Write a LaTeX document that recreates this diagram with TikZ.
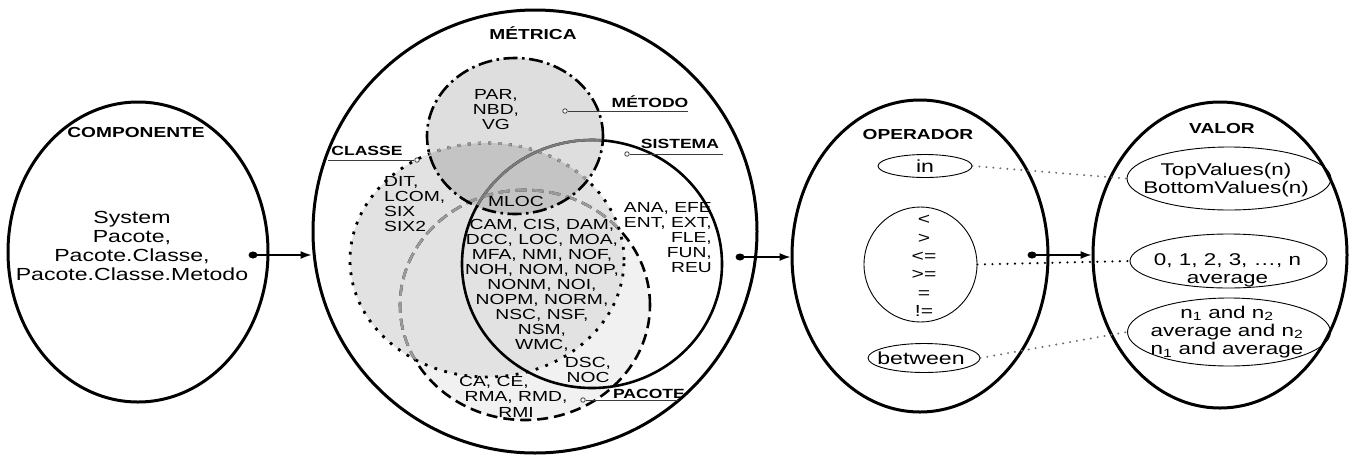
\documentclass[tikz,border=0pt]{standalone}
\usepackage{fontspec}
\setmainfont{Liberation Sans}[FakeStretch=1.32]
\usetikzlibrary{shapes.geometric,arrows.meta}

\definecolor{pacfill}{HTML}{F1F1F1}
\definecolor{clsfill}{HTML}{E2E2E2}
\definecolor{lgray}{HTML}{9A9A9A}
\definecolor{mgray}{HTML}{7A7A7A}
\definecolor{dgray}{HTML}{6E6E6E}
\definecolor{leader}{HTML}{3C3C3C}

\tikzset{
  bigell/.style={draw, ellipse, line width=3pt, inner sep=0pt},
  ttl/.style={font=\fontsize{14.5}{15}\selectfont\bfseries, inner sep=0pt},
  sublabel/.style={font=\fontsize{13.3}{14}\selectfont\bfseries, inner sep=0pt},
  metric/.style={font=\fontsize{14.6}{15}\selectfont, align=center, inner sep=0pt},
  smallell/.style={draw, ellipse, line width=0.9pt, inner sep=0pt},
  optext/.style={font=\fontsize{17.5}{18}\selectfont, inner sep=0pt},
  symtext/.style={font=\fontsize{16}{18.3}\selectfont, align=center, inner sep=0pt},
  valtext/.style={font=\fontsize{17}{18.3}\selectfont, align=center, inner sep=0pt},
  comptext/.style={font=\fontsize{17.5}{19}\selectfont, align=center, inner sep=0pt},
  anchordot/.style={fill, ellipse, inner sep=0pt, minimum width=9pt, minimum height=7pt},
  link/.style={line width=1.5pt, -{Latex[length=11pt,width=8pt]}},
  leaderline/.style={draw=leader, line width=1pt},
  ringdot/.style={circle, draw=leader, fill=white, line width=0.8pt, inner sep=0pt, minimum size=4.5pt},
  dotlinkgray/.style={draw=dgray, line width=2.2pt, line cap=round, dash pattern=on 0pt off 7pt},
  dotlinkblack/.style={draw=black, line width=2.4pt, line cap=round, dash pattern=on 0pt off 7.5pt},
  pacline/.style={line width=2.6pt, dash pattern=on 11pt off 6pt},
  clsline/.style={line width=2.8pt, dash pattern=on 2.8pt off 7.5pt},
  sisline/.style={line width=2.6pt},
  metline/.style={line width=2.6pt, dash pattern=on 14pt off 4.5pt on 2.6pt off 4.5pt},
}

\begin{document}
\begin{tikzpicture}[x=1pt,y=-1pt]
\path[use as bounding box] (0,0) rectangle (1353,456);

% ---------- outer ellipses ----------
\node[bigell, minimum width=260pt, minimum height=300pt] (comp) at (138,252) {};
\node[bigell, minimum width=444pt, minimum height=443pt] (metr) at (535,231.5) {};
\node[bigell, minimum width=256pt, minimum height=312pt] (oper) at (920,256) {};
\node[bigell, minimum width=254pt, minimum height=306pt] (valr) at (1220,255) {};

% ---------- Venn diagram inside METRICA ----------
\fill[pacfill] (525,305) ellipse [x radius=125pt, y radius=115pt];
\fill[clsfill] (487,260) ellipse [x radius=137pt, y radius=117pt];
\draw[pacline] (525,305) ellipse [x radius=125pt, y radius=115pt];
\begin{scope}
  \clip (487,260) ellipse [x radius=137pt, y radius=117pt];
  \draw[pacline, draw=lgray] (525,305) ellipse [x radius=125pt, y radius=115pt];
\end{scope}
\draw[clsline] (487,260) ellipse [x radius=137pt, y radius=117pt];
\draw[sisline] (592,264) ellipse [x radius=130pt, y radius=124pt];
\fill[black, opacity=0.13] (515,136) ellipse [x radius=88pt, y radius=78pt];
\begin{scope}
  \clip (515,136) ellipse [x radius=88pt, y radius=78pt];
  \draw[pacline, draw=lgray] (525,305) ellipse [x radius=125pt, y radius=115pt];
  \draw[clsline, draw=lgray] (487,260) ellipse [x radius=137pt, y radius=117pt];
  \draw[sisline, draw=mgray] (592,264) ellipse [x radius=130pt, y radius=124pt];
\end{scope}
\draw[metline] (515,136) ellipse [x radius=88pt, y radius=78pt];

% ---------- titles ----------
\node[ttl] (tcomp) at (136,133) {COMPONENTE};
\node[ttl] (tmetr) at (533,33) {MÉTRICA};
\node[ttl] (toper) at (918,135) {OPERADOR};
\node[ttl] (tvalr) at (1222,129) {VALOR};

% ---------- COMPONENTE ----------
\node[comptext] (ctext) at (132,246) {System\\Pacote,\\Pacote.Classe,\\Pacote.Classe.Metodo};

% ---------- leader labels ----------
\node[ringdot] (rmet) at (565,111) {};
\coordinate (emet) at (688,111);
\draw[leaderline] (rmet) -- (emet);
\node[sublabel, anchor=base] (lmet) at (650,107) {MÉTODO};

\node[ringdot] (rsis) at (627,154) {};
\coordinate (esis) at (723,154);
\draw[leaderline] (rsis) -- (esis);
\node[sublabel, anchor=base] (lsis) at (680,148) {SISTEMA};

\node[ringdot] (rcls) at (417,160) {};
\coordinate (ecls) at (328,160);
\draw[leaderline] (rcls) -- (ecls);
\node[sublabel, anchor=base] (lcls) at (367,155) {CLASSE};

\node[ringdot] (rpac) at (583,400) {};
\coordinate (epac) at (678,400);
\draw[leaderline] (rpac) -- (epac);
\node[sublabel, anchor=base] (lpac) at (649,398) {PACOTE};

% ---------- metric texts ----------
\node[metric] (mmet) at (496,109.5) {PAR,\\NBD,\\VG};
\node[metric, align=left, anchor=west] (mcls) at (384,204.5) {DIT,\\LCOM,\\SIX\\SIX2};
\node[metric] (mloc) at (516,201) {MLOC};
\node[metric] (mmid) at (542,285.5) {CAM, CIS, DAM,\\DCC, LOC, MOA,\\MFA, NMI, NOF,\\NOH, NOM, NOP,\\NONM, NOI,\\NOPM, NORM,\\NSC, NSF,\\NSM,\\WMC,};
\node[metric, align=right, anchor=east] (msis) at (712,238) {ANA, EFE\\ENT, EXT,\\FLE,\\FUN,\\REU};
\node[metric] (mdsc) at (588,370) {DSC,\\NOC};
\node[metric] (mca) at (494,382) {CA, CE,};
\node[metric] (mrma) at (516,397) {RMA, RMD,};
\node[metric] (mrmi) at (516,412) {RMI};

% ---------- OPERADOR ----------
\node[smallell, minimum width=94pt, minimum height=23pt] (oin) at (925,166) {};
\node[optext] (ointt) at (925,166) {in};
\node[smallell, minimum width=113pt, minimum height=115pt] (omid) at (920.5,264.5) {};
\node[symtext] (omidt) at (924,266) {<\\>\\<=\\>=\\=\\!=};
\node[smallell, minimum width=112pt, minimum height=29pt] (obtw) at (924,358) {};
\node[optext] (obtwt) at (921,358) {between};

% ---------- VALOR ----------
\node[smallell, minimum width=204pt, minimum height=63pt] (v1) at (1229,178.5) {};
\node[valtext] (v1t) at (1226,180) {TopValues(n)\\BottomValues(n)};
\node[smallell, minimum width=197pt, minimum height=54pt] (v2) at (1228.5,261) {};
\node[valtext] (v2t) at (1227.5,270) {0, 1, 2, 3, …, n\\average};
\node[smallell, minimum width=203pt, minimum height=68pt] (v3) at (1229,332) {};
\node[valtext] (v3t) at (1227,332) {n\textsubscript{1} and n\textsubscript{2}\\average and n\textsubscript{2}\\n\textsubscript{1} and average};

% ---------- dotted links ----------
\draw[dotlinkgray] (oin.east) -- (v1.west);
\draw[dotlinkblack] (omid.east) -- (v2.west);
\draw[dotlinkgray] (obtw.east) -- (v3.west);

% ---------- arrows ----------
\node[anchordot] (d1) at (253,255) {};
\node[anchordot] (d2) at (740,257) {};
\node[anchordot] (d3) at (1032,255) {};
\draw[link] (d1.center) -- (d1 -| metr.west);
\draw[link] (d2.center) -- (d2 -| oper.west);
\draw[link] (d3.center) -- (d3 -| valr.west);
\end{tikzpicture}
\end{document}
